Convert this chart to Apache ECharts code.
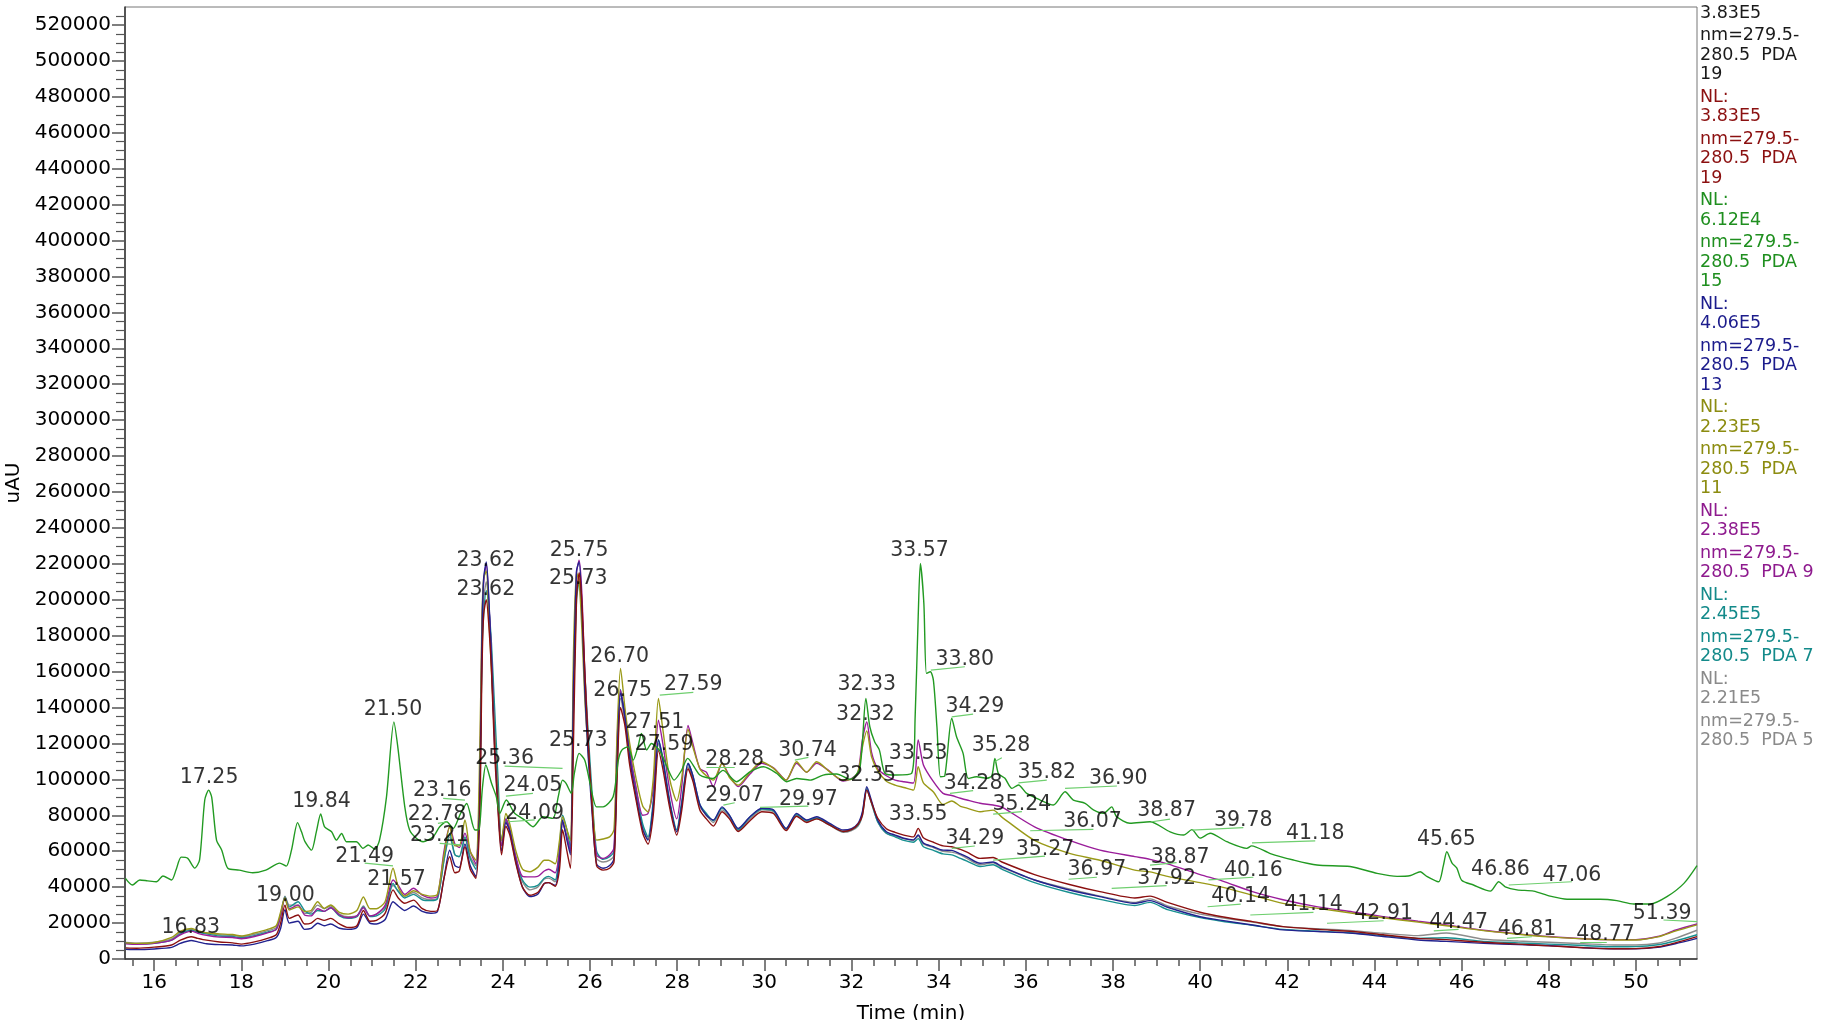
<!DOCTYPE html>
<html><head><meta charset="utf-8">
<script src="https://cdn.jsdelivr.net/npm/echarts@6/dist/echarts.min.js"></script>
<style>html,body{margin:0;padding:0;background:#fff}#c{width:1836px;height:1020px}</style>
</head><body><div id="c"></div>
<script>
// ---- shared retention-time grid (min) for the six lower traces ----
const times = [
15.35,15.6,16.0,16.4,16.6,16.85,17.0,17.2,17.5,17.8,
18.0,18.3,18.6,18.8,18.9,19.0,19.1,19.3,19.45,19.6,
19.75,19.9,20.05,20.25,20.45,20.65,20.8,20.95,21.1,21.3,
21.48,21.6,21.75,21.95,22.15,22.35,22.5,22.65,22.78,22.9,
23.0,23.13,23.25,23.38,23.47,23.52,23.56,23.62,23.68,23.74,
23.81,23.89,23.97,24.07,24.16,24.3,24.45,24.62,24.8,24.95,
25.05,25.2,25.3,25.37,25.47,25.55,25.62,25.69,25.75,25.81,
25.88,25.96,26.04,26.15,26.3,26.45,26.55,26.62,26.7,26.8,
26.91,27.06,27.21,27.33,27.45,27.57,27.67,27.83,27.99,28.1,
28.25,28.36,28.52,28.67,28.83,29.03,29.2,29.4,29.67,29.94,
30.21,30.5,30.74,30.97,31.2,31.5,31.81,32.0,32.15,32.25,
32.35,32.46,32.6,32.8,33.0,33.2,33.42,33.53,33.65,33.88,
34.1,34.3,34.5,34.65,34.95,35.25,35.45,36.2,37.0,37.7,
38.5,38.85,39.25,40.0,40.5,41.2,41.9,42.7,43.5,44.2,
45.0,45.65,46.5,47.3,48.0,48.8,49.5,50.0,50.5,50.9,51.4];

const navyPDA13 = [
5400,5200,5600,6500,8700,10300,9500,8500,8000,7800,
7300,8300,10200,12000,17000,27500,20000,21000,16500,17000,
19900,18500,19500,17100,16500,17500,25000,20000,19500,22000,
31900,29500,27000,29500,26500,25500,26500,45000,60600,52000,
51000,64000,52000,46000,90000,180000,212000,221000,200000,165000,
120000,85000,60000,76000,71000,54000,40000,34700,36000,42000,
42500,41000,55000,77400,66000,58000,150000,216000,221000,198000,
150000,112000,84000,53000,50500,52000,56000,110000,148000,135000,
112000,90000,72000,66200,85000,121900,111000,86800,70800,85000,
108900,102000,86000,80000,77400,84700,80000,72700,79200,83900,
83000,72700,81100,77400,79200,75500,71800,72600,75500,82000,
95900,88000,77400,70800,69000,67200,66300,69000,64500,62500,
60600,60500,58500,56900,53300,54000,51500,44000,38400,34700,
31000,32500,28800,23500,21500,18900,16200,15300,14300,12500,
10600,9800,8700,8000,7500,6300,5700,5700,6500,8500,11500];

const maroonPDA19 = [
6200,6000,6600,7800,10500,12400,11500,10500,9500,9000,
8300,9500,11500,13500,20000,30000,22600,24500,19500,20000,
22600,21500,22600,19500,17500,18500,27000,21000,21500,25500,
38500,34000,31000,32800,28000,26500,27000,45000,57000,48000,
49000,62500,50000,44900,80000,160000,192000,200000,185000,160000,
115000,82000,58000,74000,69000,53000,40000,35500,37000,42000,
42500,40500,50000,72000,60000,50500,120000,200000,215000,200000,
160000,120000,88000,52000,49500,50500,54000,100000,140000,130000,
108000,88000,70000,64000,80000,116000,106000,84000,69000,82000,
106000,99000,83000,78000,74000,82000,78000,71000,77000,82000,
81000,71500,79500,76000,78000,74500,71000,72000,75000,80000,
94000,87000,78500,72500,70500,69000,68000,72700,67500,65000,
63000,62500,61000,59500,56000,56500,54000,47000,41500,37500,
34000,35000,31500,26000,23500,20800,18000,16500,15300,13500,
11500,10800,9300,8300,7300,6300,5700,5800,6800,9000,12500];

const tealPDA7 = [
8700,8400,8700,10500,14000,16000,15000,14000,12800,12500,
11800,13000,15000,16500,24000,34500,29000,31900,27000,25000,
27000,26500,28500,24000,22600,23500,29000,23600,24000,28000,
42000,37500,34000,36000,33000,32500,33500,55000,69900,58000,
57000,68000,56000,50000,95000,170000,192000,205000,195000,175000,
140000,100000,66000,78000,72000,56000,44000,40000,41000,45000,
46000,44000,62000,80000,72000,62000,140000,200000,210000,195000,
160000,125000,95000,60000,55500,57000,60000,110000,150000,135000,
116000,94000,75000,68000,88000,122000,112000,88000,72000,87000,
109000,102000,86000,81000,77000,84000,80000,72000,79000,83500,
82500,72500,80500,77000,78500,75000,71000,72000,74500,81000,
95000,87000,76500,70000,68000,66000,65000,67000,62500,60500,
58500,58000,56000,54500,51500,52500,50000,42500,37000,33200,
29800,31500,27500,23000,21000,18800,16500,15500,14500,13000,
11500,11800,9800,9000,8300,7500,6800,6900,7900,10000,13500];

const grayPDA5 = [
9200,8800,9300,11200,14800,16500,15200,14300,13500,13200,
12600,13800,15800,17500,25000,35000,30000,30000,25500,26000,
30000,28000,29500,25000,23500,24000,29500,24000,25000,29000,
41000,38000,35000,37000,34000,33000,34000,55000,68000,58000,
57000,67000,57000,52000,90000,170000,200000,210000,195000,170000,
130000,90000,63000,77000,71000,55000,43000,38500,40000,44500,
45000,43000,58000,76000,68000,60000,140000,205000,212000,195000,
155000,118000,90000,56000,54000,55000,58000,105000,145000,132000,
112000,90000,73000,67000,85000,120000,110000,86000,71000,85000,
107000,100000,85000,80000,76000,83000,79000,71500,78000,83000,
82000,72000,80000,76500,78000,74500,70500,71500,74000,80000,
94500,86500,76500,70000,68500,67000,66000,68500,64000,62000,
60000,59500,58000,56000,52500,53500,51000,44000,39000,35000,
31500,33500,29500,25000,23000,20500,18000,16800,15800,14300,
13000,14500,11000,10000,9300,8500,7800,7800,8800,11500,16000];

const olivePDA11 = [
9000,8700,9200,12000,15500,17000,15800,14600,14000,13600,
12800,14500,16500,18500,26000,34000,27300,29000,26500,27000,
31900,28200,30100,26000,25000,27000,34500,28000,28000,32000,
50500,40000,35000,38000,36000,35000,36000,58000,73600,63000,
63000,77400,60000,55000,115000,190000,212000,216000,190000,160000,
125000,90000,66000,81000,75000,60000,50000,48600,51000,55000,
55000,53000,66000,79200,72000,66000,170000,215000,210000,185000,
145000,115000,90000,66200,66800,68000,72000,125000,161800,140000,
120000,100000,85000,82000,100000,145000,128000,100000,88000,100000,
128000,118000,106000,102000,99600,109000,101000,96800,104000,109800,
106100,99600,109800,104000,109800,104200,99600,100000,104200,118000,
127000,112600,105000,99000,96800,95500,94000,107000,98000,93000,
86000,88000,85000,84000,82000,82900,79000,66000,58800,55000,
49500,48500,46000,42500,40000,35500,31000,28200,25500,23000,
20500,18500,15800,13800,12300,11200,10600,10600,12300,15500,19000];

const purplePDA9 = [
8500,8200,8700,10500,13500,15500,14300,13200,12200,12000,
11300,12500,14500,16500,24000,34000,28000,30000,24500,24000,
28000,26500,28500,24500,23000,24000,28500,24000,25000,30000,
44000,41000,36000,39400,35500,34000,35000,60000,73600,64000,
62000,70000,60000,53000,100000,185000,210000,220000,198000,168000,
125000,88000,63000,78000,72000,57000,46000,45700,46000,49000,
50000,48000,60000,76000,68000,60000,155000,215000,222000,205000,
160000,118000,88000,58000,56000,58000,62000,120000,149700,135000,
115000,95000,80000,81000,95000,133000,120000,94000,78000,95000,
130000,120000,106000,104000,96000,109000,102000,96000,103000,109000,
106500,99600,109000,104000,109000,104500,99000,100500,104200,122000,
132000,115000,106000,102000,99600,98700,98000,122000,108000,98700,
92200,91000,89500,88500,86700,85700,84500,73600,66000,60600,
57000,55500,53000,47000,43500,37500,33000,29000,26200,23600,
21000,19000,16000,14000,12500,11300,10800,10800,12500,16000,19500];

// ---- green trace (PDA 15) has its own time grid ----
const greenTimes = [
15.34,15.5,15.67,15.85,16.05,16.2,16.4,16.5,16.62,16.77,
16.93,17.04,17.16,17.25,17.32,17.43,17.55,17.69,17.95,18.26,
18.56,18.88,19.03,19.15,19.29,19.38,19.46,19.61,19.72,19.82,
19.91,20.07,20.18,20.3,20.41,20.64,20.79,20.91,21.06,21.17,
21.33,21.5,21.59,21.75,21.86,22.02,22.17,22.4,22.55,22.71,
22.86,23.03,23.17,23.36,23.45,23.53,23.61,23.74,23.85,23.93,
24.08,24.27,24.5,24.69,24.92,25.15,25.27,25.37,25.45,25.57,
25.64,25.75,25.88,26.0,26.15,26.3,26.53,26.65,26.73,26.87,
26.99,27.1,27.18,27.3,27.41,27.6,27.8,27.93,28.1,28.24,
28.52,28.82,29.05,29.36,29.67,29.98,30.28,30.51,30.74,31.05,
31.35,31.66,31.97,32.19,32.33,32.42,32.53,32.64,32.77,33.03,
33.38,33.46,33.53,33.58,33.66,33.72,33.81,33.88,33.96,34.04,
34.14,34.3,34.41,34.56,34.68,34.87,35.1,35.22,35.29,35.37,
35.52,35.68,35.83,36.02,36.33,36.63,36.9,37.09,37.36,37.55,
37.78,37.97,38.08,38.39,38.85,39.31,39.62,39.81,40.0,40.23,
40.61,41.07,41.18,41.61,42.14,42.68,43.44,44.06,44.52,44.83,
45.05,45.2,45.47,45.58,45.66,45.78,45.89,46.0,46.27,46.66,
46.85,47.0,47.27,47.65,48.03,48.42,49.18,49.56,49.95,50.33,
50.71,51.1,51.4];
const greenPDA15 = [
44900,41200,44000,43500,43000,46200,44000,49500,56700,56000,
50600,55000,88500,94000,90000,66200,60600,50500,49500,48000,
49500,53400,51700,60600,75900,70800,65300,60600,70800,80700,
73600,70800,66200,69900,65300,65300,61600,63500,61100,66200,
90300,132000,118000,84700,71800,67100,65300,68100,73600,76400,
72700,81100,86600,71800,72000,95000,108000,97800,90300,81100,
88500,81100,77400,73600,79200,78300,90300,99600,97800,92200,
103300,114500,110700,97800,84700,84700,90300,110700,116300,118100,
110700,118100,125600,116300,120000,116000,105000,99600,105000,111700,
102400,100500,105000,98700,104200,107000,103400,98700,100500,99600,
102400,103000,100000,106000,145000,129300,121000,116300,103300,102400,
103300,134800,190500,220200,197900,159000,159900,155000,129300,101500,
102000,134000,123700,114500,100500,101500,100600,102000,111700,103300,
100600,95000,96900,92200,88500,85700,93100,88500,86700,83000,
81100,84700,79300,75600,76400,70800,69000,72000,67300,70000,
65300,61600,63000,58700,55100,52300,51500,47700,46000,46500,
48600,46000,43000,52000,59700,53400,50600,43900,41200,37800,
43000,40200,38500,37800,35000,33300,33300,32500,30600,30600,
34700,42100,52000];

// ---- axis ticks ----
const xTickValues = [16,18,20,22,24,26,28,30,32,34,36,38,40,42,44,46,48,50];
const yTickValues = [0,20000,40000,60000,80000,100000,120000,140000,160000,180000,200000,
  220000,240000,260000,280000,300000,320000,340000,360000,380000,400000,420000,440000,
  460000,480000,500000,520000];

// ---- peak annotations ----
const labelTexts = ["17.25","19.84","21.50","21.49","21.57","16.83","19.00","23.16","22.78","23.21",
 "23.62","23.62","25.75","25.73","25.73","25.36","24.05","24.09","26.70","26.75",
 "27.59","27.51","27.59","28.28","29.07","30.74","29.97","32.35","32.33","32.32",
 "33.57","33.80","34.29","35.28","33.53","34.28","35.82","36.90","35.24","33.55",
 "36.07","34.29","35.27","38.87","36.97","37.92","38.87","39.78","41.18","40.16",
 "40.14","41.14","42.91","44.47","45.65","46.86","47.06","51.39","46.81","48.77"];
const labelTimes = [17.26,19.84,21.48,20.83,21.56,16.84,19.01,22.61,22.49,22.54,
 23.61,23.61,25.75,25.73,25.73,24.04,24.69,24.73,26.68,26.75,
 28.37,27.49,27.70,29.32,29.32,30.99,31.01,32.35,32.35,32.32,
 33.56,34.60,34.83,35.43,33.53,34.79,36.48,38.12,35.91,33.53,
 37.53,34.83,36.44,39.23,37.63,39.23,39.54,40.99,42.64,41.22,
 40.93,42.60,44.21,45.93,45.65,46.89,48.53,50.60,47.50,49.30];
const labelValues = [101100,87500,139000,56900,44300,17400,35100,93500,80100,68400,
 221500,205700,227200,211500,121300,111700,96500,81100,168200,149300,
 152900,131500,119100,110700,90900,115800,88900,101800,152900,135800,
 227200,166800,140400,118500,114500,97400,103900,100200,86100,80100,
 76400,67200,61000,82400,49500,44900,56600,76800,69900,49000,
 34700,30400,25400,20200,66200,49500,46200,25400,16100,13400];
// leader lines: [t1, v1, t2, v2]
const leaderLines = [
 [20.83,53400,21.48,51800],[22.63,89400,23.13,88500],[22.51,75500,22.73,76400],[22.55,64400,23.05,63500],
 [24.04,107400,25.37,106100],[24.07,90700,24.69,92200],[24.12,76400,24.73,77400],[27.60,146900,28.37,148400],
 [28.67,107000,29.32,107000],[29.06,85700,29.32,87000],[29.90,84400,31.01,85100],[30.70,110700,31.01,112200],
 [33.82,160800,34.60,162700],[34.30,134800,34.79,136300],[35.29,110000,35.45,112000],[34.26,92200,34.79,93700],
 [35.83,98100,36.48,99600],[36.90,95000,38.09,96300],[35.25,80700,35.91,82000],[36.10,71400,37.55,72200],
 [34.30,61600,34.83,62900],[35.25,55100,36.44,57300],[36.98,44400,37.63,45500],[37.97,39300,39.23,40800],
 [38.89,76400,39.31,77900],[38.85,52300,39.46,53600],[39.81,71800,40.99,73100],[41.19,64700,42.64,65800],
 [40.19,44000,41.22,45500],[40.17,29100,40.93,30600],[41.15,24500,42.60,26000],[42.91,19900,44.21,21300],
 [45.36,15700,45.93,16500],[47.08,41200,48.53,43000],[47.04,11500,47.61,12400],[48.72,9600,49.33,9600],
 [50.63,21700,51.40,20800]];

// ---- legend (trace headers) ----
const legendNL = ["3.83E5","3.83E5","6.12E4","4.06E5","2.23E5","2.38E5","2.45E5","2.21E5"];
const legendPDA = ["19","19","15","13","11","9","7","5"];
const legendColors = ["#1a1a1a","#8b1010","#1f8f1f","#1c1c8c","#8c8c10","#8e1a8e","#138a8a","#8a8a8a"];

// ---------------------------------------------------------------
const FONT = 'DejaVu Sans';
const xMinor = [], yMinor = [];
for (let t = 15.5; t <= 51.2; t += 0.5) { if (Math.abs(t / 2 - Math.round(t / 2)) > 1e-6) xMinor.push(+t.toFixed(2)); }
for (let v = 5000; v < 530000; v += 5000) { if (v % 20000 !== 0) yMinor.push(v); }

const zip = (ts, vs) => ts.map((t, i) => [t, vs[i]]);
const traces = [
  {name: 'PDA 5', data: zip(times, grayPDA5), color: '#8c8c8c'},
  {name: 'PDA 7', data: zip(times, tealPDA7), color: '#179090'},
  {name: 'PDA 9', data: zip(times, purplePDA9), color: '#9a1d9a'},
  {name: 'PDA 11', data: zip(times, olivePDA11), color: '#9a9a18'},
  {name: 'PDA 13', data: zip(times, navyPDA13), color: '#22228f'},
  {name: 'PDA 19', data: zip(times, maroonPDA19), color: '#8b1010'},
  {name: 'PDA 15', data: zip(greenTimes, greenPDA15), color: '#229a22'}
];

const series = traces.map(tr => ({
  type: 'line', name: tr.name, data: tr.data, showSymbol: false, symbol: 'none',
  smooth: 0.25, lineStyle: {color: tr.color, width: 1.4}, itemStyle: {color: tr.color},
  xAxisIndex: 0, yAxisIndex: 0, animation: false, z: 2
}));
series.push({
  type: 'lines', coordinateSystem: 'cartesian2d', xAxisIndex: 0, yAxisIndex: 0,
  data: leaderLines.map(l => ({coords: [[l[0], l[1]], [l[2], l[3]]]})),
  lineStyle: {color: '#6fcf6f', width: 1.2, opacity: 1}, symbol: 'none', silent: true, z: 3, animation: false
});
series.push({
  type: 'scatter', xAxisIndex: 0, yAxisIndex: 0, symbolSize: 1,
  itemStyle: {color: 'rgba(0,0,0,0)'},
  data: labelTimes.map((t, i) => [t, labelValues[i], labelTexts[i]]),
  label: {show: true, position: 'inside', formatter: p => p.data[2], fontSize: 20.5, fontFamily: FONT, color: '#000'},
  silent: true, z: 5, animation: false
});

// legend text layout
const graphics = [];
let yc = -6.5;
const P = 19.5, G = 22.5;
legendNL.forEach((nl, i) => {
  const lines = [['NL:', P], [nl, G], ['nm=279.5-', P]];
  if (legendPDA[i].length > 1) { lines.push(['280.5  PDA', P]); lines.push([legendPDA[i], G]); }
  else { lines.push(['280.5  PDA ' + legendPDA[i], G]); }
  lines.forEach(([txt, step]) => {
    graphics.push({type: 'text', x: 1700, y: yc, silent: true,
      style: {text: txt, fill: legendColors[i], fontSize: 17.5, fontFamily: FONT, verticalAlign: 'middle', align: 'left'}});
    yc += step;
  });
});

const axisText = {fontSize: 20, fontFamily: FONT, color: '#000'};
const option = {
  animation: false,
  backgroundColor: '#fff',
  grid: {left: 125, right: 139, top: 7, bottom: 61, show: true, borderColor: '#777', borderWidth: 1,
         backgroundColor: 'rgba(0,0,0,0)', containLabel: false, outerBoundsMode: 'none'},
  xAxis: [
    {type: 'value', min: 15.33, max: 51.4, position: 'bottom',
     axisLine: {show: true, onZero: false, lineStyle: {color: '#333', width: 1.5}},
     axisTick: {show: true, customValues: xTickValues, length: 12, lineStyle: {color: '#555', width: 1.5}},
     axisLabel: {customValues: xTickValues, margin: 14, formatter: v => String(v), ...axisText},
     splitLine: {show: false},
     name: 'Time (min)', nameLocation: 'middle', nameGap: 45, nameTextStyle: axisText},
    {type: 'value', min: 15.33, max: 51.4, position: 'bottom',
     axisLine: {show: false, onZero: false},
     axisTick: {show: true, customValues: xMinor, length: 7, lineStyle: {color: '#555', width: 1.5}},
     axisLabel: {show: false}, splitLine: {show: false}}
  ],
  yAxis: [
    {type: 'value', min: 0, max: 530000, position: 'left',
     axisLine: {show: true, onZero: false, lineStyle: {color: '#333', width: 1.5}},
     axisTick: {show: true, customValues: yTickValues, length: 13, lineStyle: {color: '#555', width: 1.5}},
     axisLabel: {customValues: yTickValues, margin: 14, formatter: v => String(v), ...axisText},
     splitLine: {show: false},
     name: 'uAU', nameLocation: 'middle', nameGap: 93, nameTextStyle: axisText},
    {type: 'value', min: 0, max: 530000, position: 'left',
     axisLine: {show: false, onZero: false},
     axisTick: {show: true, customValues: yMinor, length: 9, lineStyle: {color: '#555', width: 1.2}},
     axisLabel: {show: false}, splitLine: {show: false}}
  ],
  graphic: {elements: graphics},
  series: series
};
const chart = echarts.init(document.getElementById('c'));
chart.setOption(option);
</script></body></html>
